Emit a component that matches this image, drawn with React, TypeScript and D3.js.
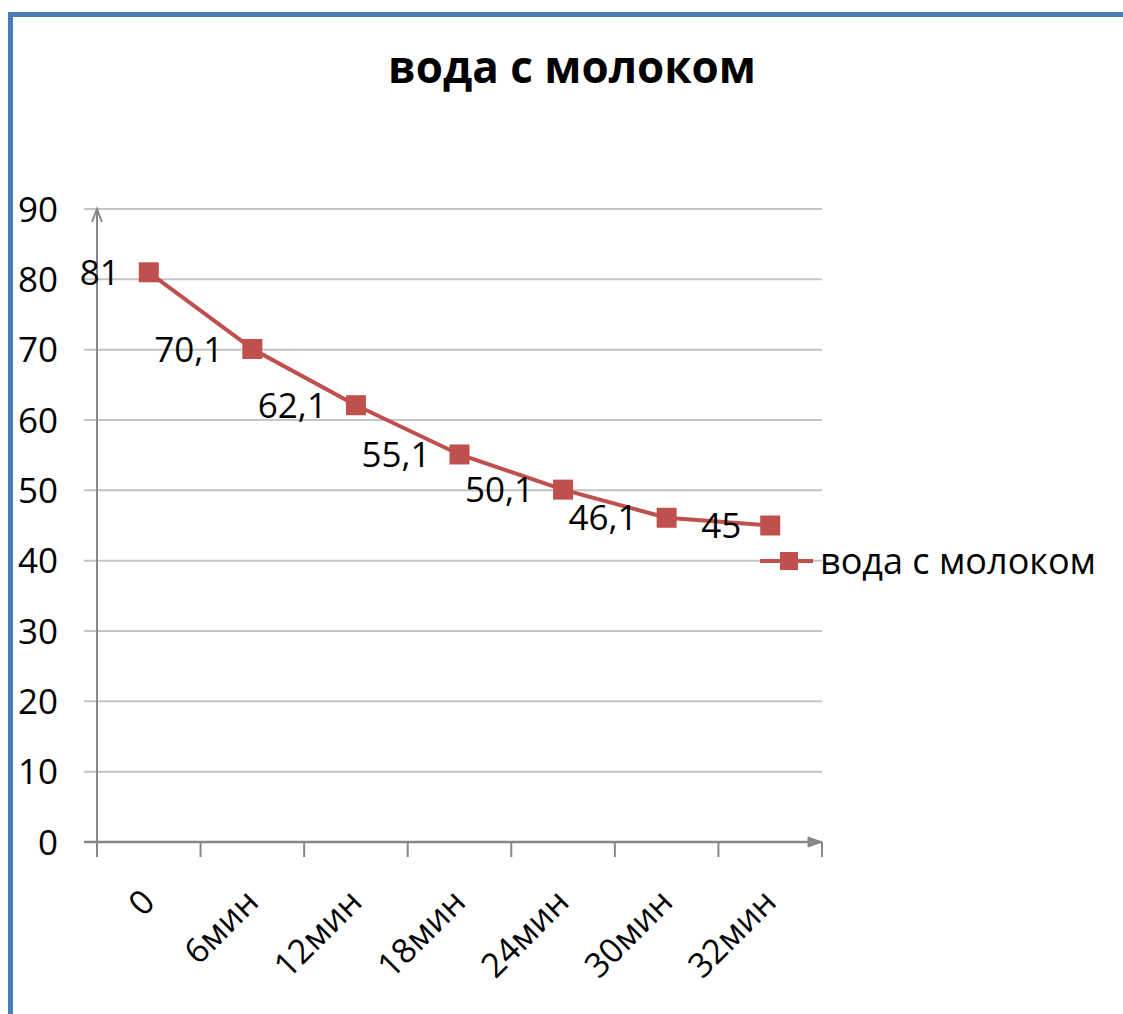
import React from "react";
import * as d3 from "d3";

const categories = ["0", "6мин", "12мин", "18мин", "24мин", "30мин", "32мин"];
const values = [81, 70.1, 62.1, 55.1, 50.1, 46.1, 45];
const valueLabels = ["81", "70,1", "62,1", "55,1", "50,1", "46,1", "45"];
const yTicks = [0, 10, 20, 30, 40, 50, 60, 70, 80, 90];
const seriesName = "вода с молоком";
const title = "вода с молоком";

const W = 1123;
const H = 1014;
const FONT = "'Open Sans', 'Noto Sans', sans-serif";
const RED = "#c0504d";
const AXIS = "#878787";
const GRID = "#c4c4c4";

export default function App() {
  const x = d3.scaleBand<string>().domain(categories).range([97, 822]).padding(0);
  const y = d3.scaleLinear().domain([0, 90]).range([842, 209]);
  const cx = (c: string) => (x(c) as number) + x.bandwidth() / 2;
  const line = d3
    .line<number>()
    .x((_, i) => cx(categories[i]))
    .y((d) => y(d));
  const boundaries = categories.map((c) => x(c) as number).concat([x.range()[1]]);
  const x0 = x.range()[0];
  const x1 = x.range()[1];
  const y0 = y(0);
  const yTop = y(90);
  const ms = 20;

  return (
    <svg
      width={W}
      height={H}
      style={{ position: "absolute", left: 0, top: 0, background: "#fff" }}
    >
      <rect x={0} y={0} width={W} height={H} fill="#fff" />
      {/* frame */}
      <rect x={8} y={12} width={W - 8} height={5} fill="#4a7ebb" />
      <rect x={8} y={12} width={5} height={H - 12} fill="#4a7ebb" />

      {/* title */}
      <text
        x={572}
        y={83}
        textAnchor="middle"
        fontFamily={FONT}
        fontWeight="bold"
        fontSize={44}
        fill="#000"
      >
        {title}
      </text>

      {/* gridlines */}
      {yTicks
        .filter((t) => t > 0)
        .map((t) => (
          <line key={"g" + t} x1={84} x2={x1} y1={y(t)} y2={y(t)} stroke={GRID} strokeWidth={2} />
        ))}

      {/* y tick labels */}
      {yTicks.map((t) => (
        <text
          key={"yl" + t}
          x={58}
          y={y(t)}
          dy="0.36em"
          textAnchor="end"
          fontFamily={FONT}
          fontSize={35}
          fill="#000"
        >
          {t}
        </text>
      ))}

      {/* y axis */}
      <line x1={x0} x2={x0} y1={y0 + 14} y2={yTop} stroke={AXIS} strokeWidth={2} />
      <path
        d={`M${x0 - 5},${yTop + 13} L${x0},${yTop} L${x0 + 5},${yTop + 13}`}
        fill="none"
        stroke={AXIS}
        strokeWidth={2}
      />

      {/* x axis */}
      <line x1={84} x2={x1} y1={y0} y2={y0} stroke={AXIS} strokeWidth={2.5} />
      <path
        d={`M${x1 - 14},${y0 - 5} L${x1},${y0} L${x1 - 14},${y0 + 5} Z`}
        fill={AXIS}
        stroke={AXIS}
        strokeWidth={1}
      />
      {boundaries.map((b, i) => (
        <line key={"t" + i} x1={b} x2={b} y1={y0} y2={y0 + 15} stroke={AXIS} strokeWidth={2} />
      ))}

      {/* x labels */}
      {categories.map((c) => (
        <text
          key={"xl" + c}
          transform={`translate(${cx(c) + 8},${y0 + 62}) rotate(-45)`}
          textAnchor="end"
          fontFamily={FONT}
          fontSize={34}
          fill="#000"
        >
          {c}
        </text>
      ))}

      {/* series line */}
      <path d={line(values) as string} fill="none" stroke={RED} strokeWidth={4} strokeLinejoin="round" />
      {values.map((v, i) => (
        <rect
          key={"m" + i}
          x={cx(categories[i]) - ms / 2}
          y={y(v) - ms / 2}
          width={ms}
          height={ms}
          fill={RED}
        />
      ))}

      {/* data labels */}
      {values.map((v, i) => (
        <text
          key={"dl" + i}
          x={cx(categories[i]) - 29}
          y={y(v)}
          dy="0.36em"
          textAnchor="end"
          fontFamily={FONT}
          fontSize={35}
          fill="#000"
        >
          {valueLabels[i]}
        </text>
      ))}

      {/* legend */}
      <line x1={760} x2={813} y1={561} y2={561} stroke={RED} strokeWidth={4} />
      <rect x={789 - 9} y={561 - 9} width={18} height={18} fill={RED} />
      <text
        x={820}
        y={561}
        dy="0.36em"
        fontFamily={FONT}
        fontSize={36}
        fill="#000"
      >
        {seriesName}
      </text>
    </svg>
  );
}
